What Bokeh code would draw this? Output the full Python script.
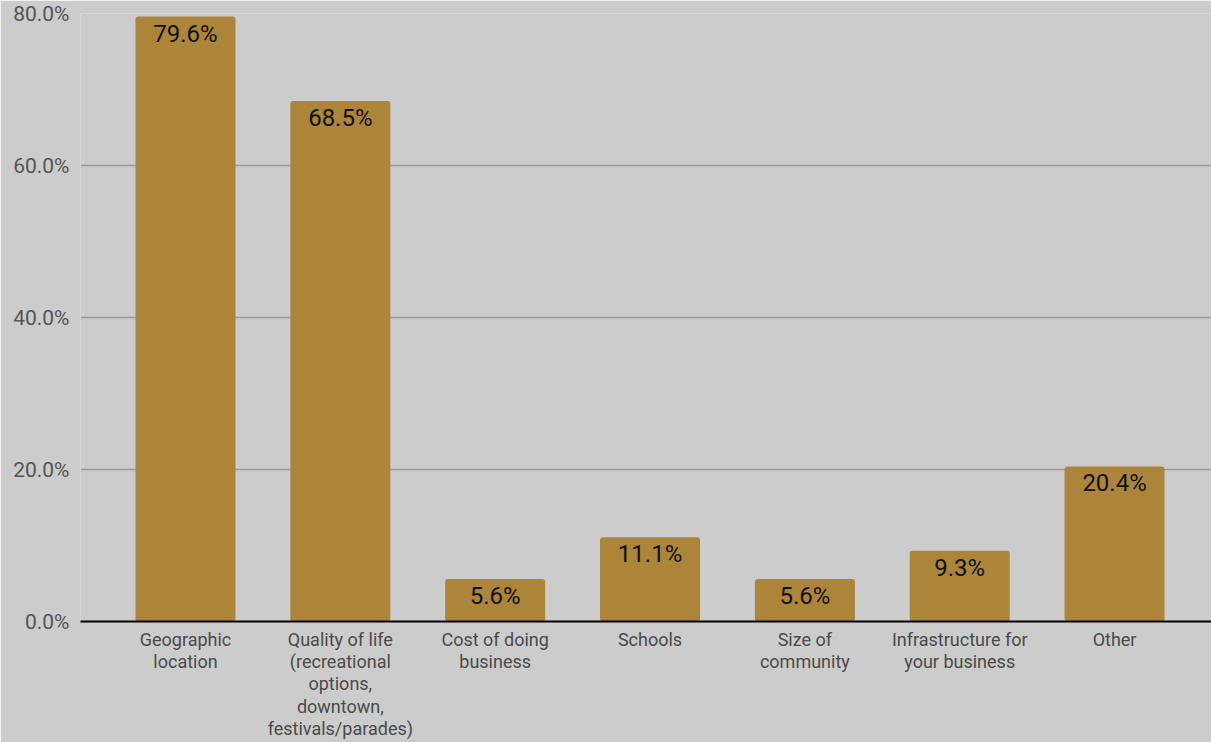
from bokeh.plotting import figure
from bokeh.models import FixedTicker, PrintfTickFormatter, Range1d, ColumnDataSource
from bokeh.core.properties import value
from bokeh.embed import file_html
from bokeh.resources import INLINE

categories = [
    "Geographic\nlocation",
    "Quality of life\n(recreational\noptions,\ndowntown,\nfestivals/parades)",
    "Cost of doing\nbusiness",
    "Schools",
    "Size of\ncommunity",
    "Infrastructure for\nyour business",
    "Other",
]
values = [79.6, 68.5, 5.6, 11.1, 5.6, 9.3, 20.4]
y_ticks = [0, 20, 40, 60, 80]

BG = "#cccccc"
BAR = "#ac843a"
FONT = "Roboto"

xs = list(range(len(categories)))
src = ColumnDataSource(dict(x=xs, top=values, label=[f"{v:.1f}%" for v in values]))

p = figure(width=1211, height=742, output_backend="svg", toolbar_location=None,
           x_range=Range1d(-0.678, 6.626), y_range=Range1d(0, 80),
           min_border_left=80, min_border_right=0, min_border_top=13, min_border_bottom=121)
p.background_fill_color = BG
p.border_fill_color = BG
p.outline_line_color = None

p.vbar(x="x", top="top", width=0.646, bottom=0, source=src, color=BAR, line_color=None,
       border_radius=3)
p.text(x="x", y="top", text="label", source=src, text_align="center", text_baseline="top",
       y_offset=3, text_font=value(FONT), text_font_size="24px", text_color="#111111")

p.xaxis.ticker = FixedTicker(ticks=xs)
p.xaxis.major_label_overrides = {i: c for i, c in enumerate(categories)}
p.xaxis.major_tick_line_color = None
p.xaxis.minor_tick_line_color = None
p.xaxis.axis_line_color = "#000000"
p.xaxis.axis_line_width = 2
p.xaxis.major_label_text_font = FONT
p.xaxis.major_label_text_font_size = "18px"
p.xaxis.major_label_text_line_height = 1.07
p.xaxis.major_label_text_color = "#4a4a4a"
p.xaxis.major_label_standoff = 1

p.yaxis.ticker = FixedTicker(ticks=y_ticks)
p.yaxis.formatter = PrintfTickFormatter(format="%.1f%%")
p.yaxis.axis_line_color = None
p.yaxis.major_tick_line_color = None
p.yaxis.minor_tick_line_color = None
p.yaxis.major_label_text_font = FONT
p.yaxis.major_label_text_font_size = "21px"
p.yaxis.major_label_text_color = "#555555"
p.yaxis.major_label_standoff = 5

p.xgrid.grid_line_color = None
p.ygrid.ticker = FixedTicker(ticks=[20, 40, 60, 80])
p.ygrid.grid_line_color = "#999999"
p.ygrid.grid_line_width = 1.5

open("out.html", "w").write(file_html(p, INLINE))
